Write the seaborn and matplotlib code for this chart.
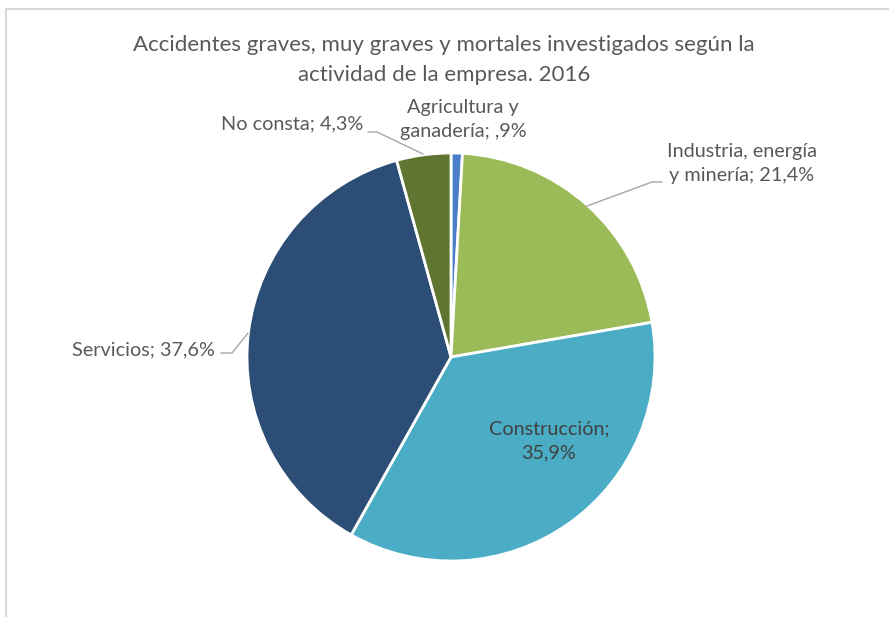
import matplotlib
matplotlib.use("Agg")
import matplotlib.pyplot as plt
import seaborn as sns

# data
sectores = ["Agricultura y\nganadería", "Industria, energía\ny minería", "Construcción",
            "Servicios", "No consta"]
porcentajes = [0.9, 21.4, 35.9, 37.6, 4.3]
etiquetas = ["Agricultura y\nganadería; ,9%", "Industria, energía\ny minería; 21,4%",
             "Construcción;\n35,9%", "Servicios; 37,6%", "No consta; 4,3%"]
colores = ["#4A7EC7", "#9BBB59", "#4BACC6", "#2C4D75", "#5F7530"]

sns.set_theme(style="white")
plt.rcParams['font.family'] = ['Lato', 'DejaVu Sans']

W, H = 889, 617
CX, CY, R = 451, 357, 204


def px(x, y):
    # pixel position in the picture -> data units of the pie
    return (x - CX) / R, (CY - y) / R


fig = plt.figure(figsize=(W / 100, H / 100), dpi=100)
ax = fig.add_axes([0, 0, 1, 1])

ax.pie(porcentajes, colors=colores, startangle=90, counterclock=False, radius=1,
       wedgeprops=dict(edgecolor="white", linewidth=2))

# pie() changes the limits, so set them after
ax.set_xlim(px(0, 0)[0], px(W, 0)[0])
ax.set_ylim(px(0, H)[1], px(0, 0)[1])
ax.set_aspect("equal")
ax.axis("off")

# marco del gráfico
ax.plot([px(6, 0)[0], px(6, 0)[0], px(W + 5, 0)[0]],
        [px(0, H + 5)[1], px(0, 9)[1], px(0, 9)[1]],
        color="#D9D9D9", lw=1.5, clip_on=False)

gris = "#595959"
ax.text(*px(444, 60), "Accidentes graves, muy graves y mortales investigados según la\n"
        "actividad de la empresa. 2016", ha="center", va="center", fontsize=16,
        color=gris, linespacing=1.6)

pos = [(463, 120), (742, 163), (549, 441), (143, 350), (292, 124)]
for lab, (x, y) in zip(etiquetas, pos):
    color = "#404040" if lab.startswith("Constr") else gris
    ax.text(*px(x, y), lab, ha="center", va="center", fontsize=14.3, color=color,
            linespacing=1.5)

# líneas guía
guias = [[(368, 132), (377, 132), (423, 154)],
         [(662, 182), (652, 182), (587, 206)],
         [(221, 353), (232, 353), (248, 333)]]
for g in guias:
    xs, ys = zip(*[px(a, b) for a, b in g])
    ax.plot(xs, ys, color="#A6A6A6", lw=1)

fig.savefig("out.png", dpi=100)
